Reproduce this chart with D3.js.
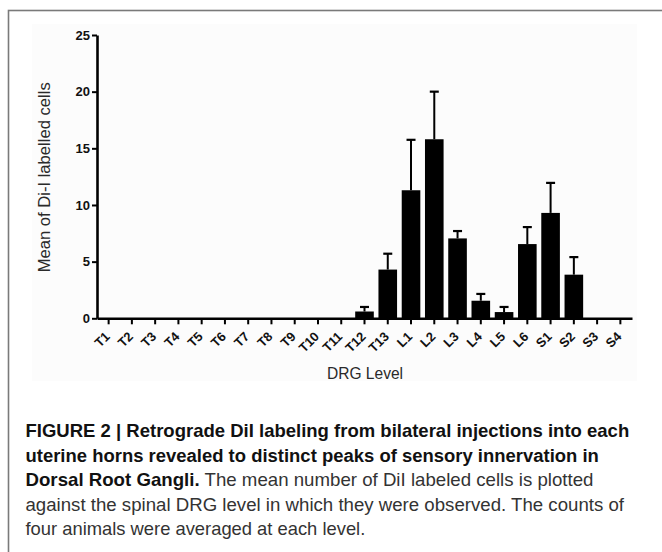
<!DOCTYPE html>
<html>
<head>
<meta charset="utf-8">
<script src="https://cdn.jsdelivr.net/npm/d3@7/dist/d3.min.js"></script>
<style>
  html, body { margin: 0; padding: 0; background: #fff; }
  svg { display: block; }
</style>
</head>
<body>
<svg id="chart" width="662" height="552"></svg>
<script>
// ---- Data ----
const levels = ["T1","T2","T3","T4","T5","T6","T7","T8","T9","T10","T11","T12","T13",
                "L1","L2","L3","L4","L5","L6","S1","S2","S3","S4"];
const meanCells = [0,0,0,0,0,0,0,0,0,0,0,0.6,4.3,11.3,15.8,7.05,1.55,0.55,6.55,9.3,3.85,0,0];
const semCells  = [0,0,0,0,0,0,0,0,0,0,0,0.4,1.4,4.45,4.2,0.65,0.6,0.45,1.5,2.65,1.55,0,0];
const yTicks = [0,5,10,15,20,25];
const xTitle = "DRG Level";
const yTitle = "Mean of Di-I labelled cells";
const captionLines = [
  [{t:"FIGURE 2 | Retrograde DiI labeling from bilateral injections into each", b:true}],
  [{t:"uterine horns revealed to distinct peaks of sensory innervation in", b:true}],
  [{t:"Dorsal Root Gangli.", b:true},{t:" The mean number of DiI labeled cells is plotted", b:false}],
  [{t:"against the spinal DRG level in which they were observed. The counts of", b:false}],
  [{t:"four animals were averaged at each level.", b:false}]
];
const captionWidths = [604, 574, 568, 599, 340];

// ---- Layout ----
const svg = d3.select("#chart");
const plotLeft = 97, plotRight = 632, plotTop = 35, plotBottom = 318.3;

// frame
svg.append("rect").attr("x",8.5).attr("y",10.5).attr("width",700).attr("height",600)
  .attr("fill","#fff").attr("stroke","#7a7a7a").attr("stroke-width",1.6);
// faint image background
svg.append("rect").attr("x",32).attr("y",24).attr("width",605).attr("height",357)
  .attr("fill","#fcfcfc");

const x = d3.scaleBand().domain(levels).range([plotLeft, plotRight]).paddingInner(0.2).paddingOuter(0.1);
const y = d3.scaleLinear().domain([0,25]).range([plotBottom, plotTop]);

const g = svg.append("g");
const rows = levels.map((l,i)=>({l, m:meanCells[i], s:semCells[i]})).filter(d=>d.m>0);

// bars
g.selectAll("rect.bar").data(rows)
  .join("rect").attr("class","bar")
  .attr("x", d=>x(d.l)).attr("width", x.bandwidth())
  .attr("y", d=>y(d.m)).attr("height", d=>y(0)-y(d.m))
  .attr("fill","#000");

// error bars
const eb = g.selectAll("g.err").data(rows).join("g").attr("class","err");
eb.append("line")
  .attr("x1", d=>x(d.l)+x.bandwidth()/2).attr("x2", d=>x(d.l)+x.bandwidth()/2)
  .attr("y1", d=>y(d.m)).attr("y2", d=>y(d.m+d.s))
  .attr("stroke","#000").attr("stroke-width",2);
eb.append("line")
  .attr("x1", d=>x(d.l)+x.bandwidth()/2-4.5).attr("x2", d=>x(d.l)+x.bandwidth()/2+4.5)
  .attr("y1", d=>y(d.m+d.s)).attr("y2", d=>y(d.m+d.s))
  .attr("stroke","#000").attr("stroke-width",2.2);

// y axis
const yAxis = g.append("g").attr("transform",`translate(${plotLeft},0)`)
  .call(d3.axisLeft(y).tickValues(yTicks).tickSize(5).tickSizeOuter(0).tickPadding(2));
yAxis.select(".domain").attr("stroke","#000").attr("stroke-width",2.6);
yAxis.selectAll(".tick line").attr("stroke","#000").attr("stroke-width",2);
yAxis.selectAll(".tick text").attr("font-family","Liberation Sans, Arial, sans-serif")
  .attr("font-size",13).attr("font-weight","bold").attr("fill","#111");

// x axis
const xAxis = g.append("g").attr("transform",`translate(0,${plotBottom})`)
  .call(d3.axisBottom(x).tickSize(6).tickSizeOuter(0));
xAxis.select(".domain").attr("stroke","#000").attr("stroke-width",2.6);
xAxis.selectAll(".tick line").attr("stroke","#000").attr("stroke-width",2);
xAxis.selectAll(".tick text")
  .attr("font-family","Liberation Sans, Arial, sans-serif")
  .attr("font-size",13).attr("font-weight","bold").attr("fill","#111")
  .attr("text-anchor","end")
  .attr("x",0).attr("y",0).attr("dy",0)
  .attr("transform","translate(2,19) rotate(-45)");

// axis titles
svg.append("text").attr("x", 365).attr("y", 378.5).attr("text-anchor","middle")
  .attr("font-family","Liberation Sans, Arial, sans-serif").attr("font-size",16)
  .attr("fill","#2a2a2a").attr("textLength",76).attr("lengthAdjust","spacingAndGlyphs")
  .text(xTitle);
svg.append("text").attr("transform","translate(49.5,177.3) rotate(-90)").attr("text-anchor","middle")
  .attr("font-family","Liberation Sans, Arial, sans-serif").attr("font-size",16)
  .attr("fill","#2a2a2a").attr("textLength",190).attr("lengthAdjust","spacingAndGlyphs")
  .text(yTitle);

// caption
const capBase = 437, capStep = 24.5, capX = 25.5;
captionLines.forEach((parts, i) => {
  const t = svg.append("text").attr("x", 0).attr("y", 0)
    .attr("font-family","Liberation Sans Narrow, Liberation Sans, Arial, sans-serif")
    .attr("font-size",18.5);
  parts.forEach(p => {
    t.append("tspan").text(p.t)
      .attr("font-weight", p.b ? "bold" : "normal")
      .attr("fill", p.b ? "#111" : "#333");
  });
  const w = t.node().getComputedTextLength();
  const sx = captionWidths[i] / w;
  t.attr("transform", `translate(${capX},${capBase + i*capStep}) scale(${sx},1)`);
});
</script>
</body>
</html>
